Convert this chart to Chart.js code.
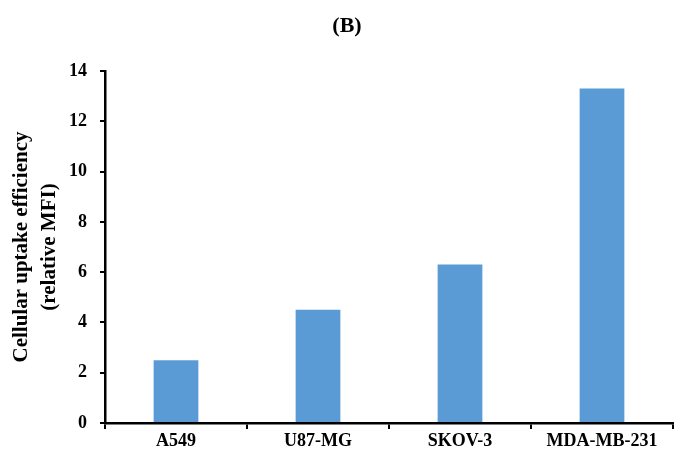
<!DOCTYPE html>
<html>
<head>
<meta charset="utf-8">
<script src="https://cdn.jsdelivr.net/npm/chart.js@4/dist/chart.umd.min.js"></script>
<style>
html,body{margin:0;padding:0;background:#fff;}
#wrap{width:675px;height:455px;}
</style>
</head>
<body>
<div id="wrap"><canvas id="c" width="675" height="455"></canvas></div>
<script>
const categories = ["A549", "U87-MG", "SKOV-3", "MDA-MB-231"];
const uptakeValues = [2.5, 4.5, 6.3, 13.3];
const yTicks = [0, 2, 4, 6, 8, 10, 12, 14];
const chartTitle = "(B)";
const yTitle = ["Cellular uptake efficiency", "(relative MFI)"];

const serif = "'Liberation Serif', 'Times New Roman', serif";

const titlePlugin = {
  id: 'topTitle',
  afterDraw(chart) {
    const ctx = chart.ctx;
    ctx.save();
    ctx.font = "bold 22px " + serif;
    ctx.fillStyle = "#000";
    ctx.textAlign = "center";
    ctx.textBaseline = "middle";
    ctx.fillText(chartTitle, 347, 26);
    ctx.restore();
  }
};

new Chart(document.getElementById('c'), {
  type: 'bar',
  data: {
    labels: categories,
    datasets: [{
      data: uptakeValues,
      backgroundColor: '#5B9BD5',
      borderWidth: 0,
      categoryPercentage: 1.0,
      barPercentage: 0.315
    }]
  },
  options: {
    responsive: false,
    animation: false,
    devicePixelRatio: 1,
    layout: { padding: { top: 71, right: 2, left: 0, bottom: 0 } },
    plugins: { legend: { display: false }, tooltip: { enabled: false } },
    scales: {
      x: {
        offset: true,
        grid: { display: true, offset: true, drawOnChartArea: false, drawTicks: true, tickLength: 6, color: '#000', lineWidth: 2 },
        border: { display: true, color: '#000', width: 2.5 },
        ticks: { color: '#000', font: { family: serif, size: 18, weight: 'bold' }, padding: 2, maxRotation: 0, autoSkip: false },
        afterFit(s) { s.height = 32; }
      },
      y: {
        min: 0, max: 14,
        afterBuildTicks(s) { s.ticks = yTicks.map(v => ({ value: v })); },
        grid: { display: true, drawOnChartArea: false, drawTicks: true, tickLength: 5, color: '#000', lineWidth: 2 },
        border: { display: true, color: '#000', width: 2.5 },
        ticks: { color: '#000', font: { family: serif, size: 18, weight: 'bold' }, padding: 13 },
        title: { display: true, text: yTitle, color: '#000', font: { family: serif, size: 21, weight: 'bold', lineHeight: 1.33 }, padding: { top: 8, bottom: 0 } },
        afterFit(s) { s.width = 105; }
      }
    }
  },
  plugins: [titlePlugin]
});
</script>
</body>
</html>
